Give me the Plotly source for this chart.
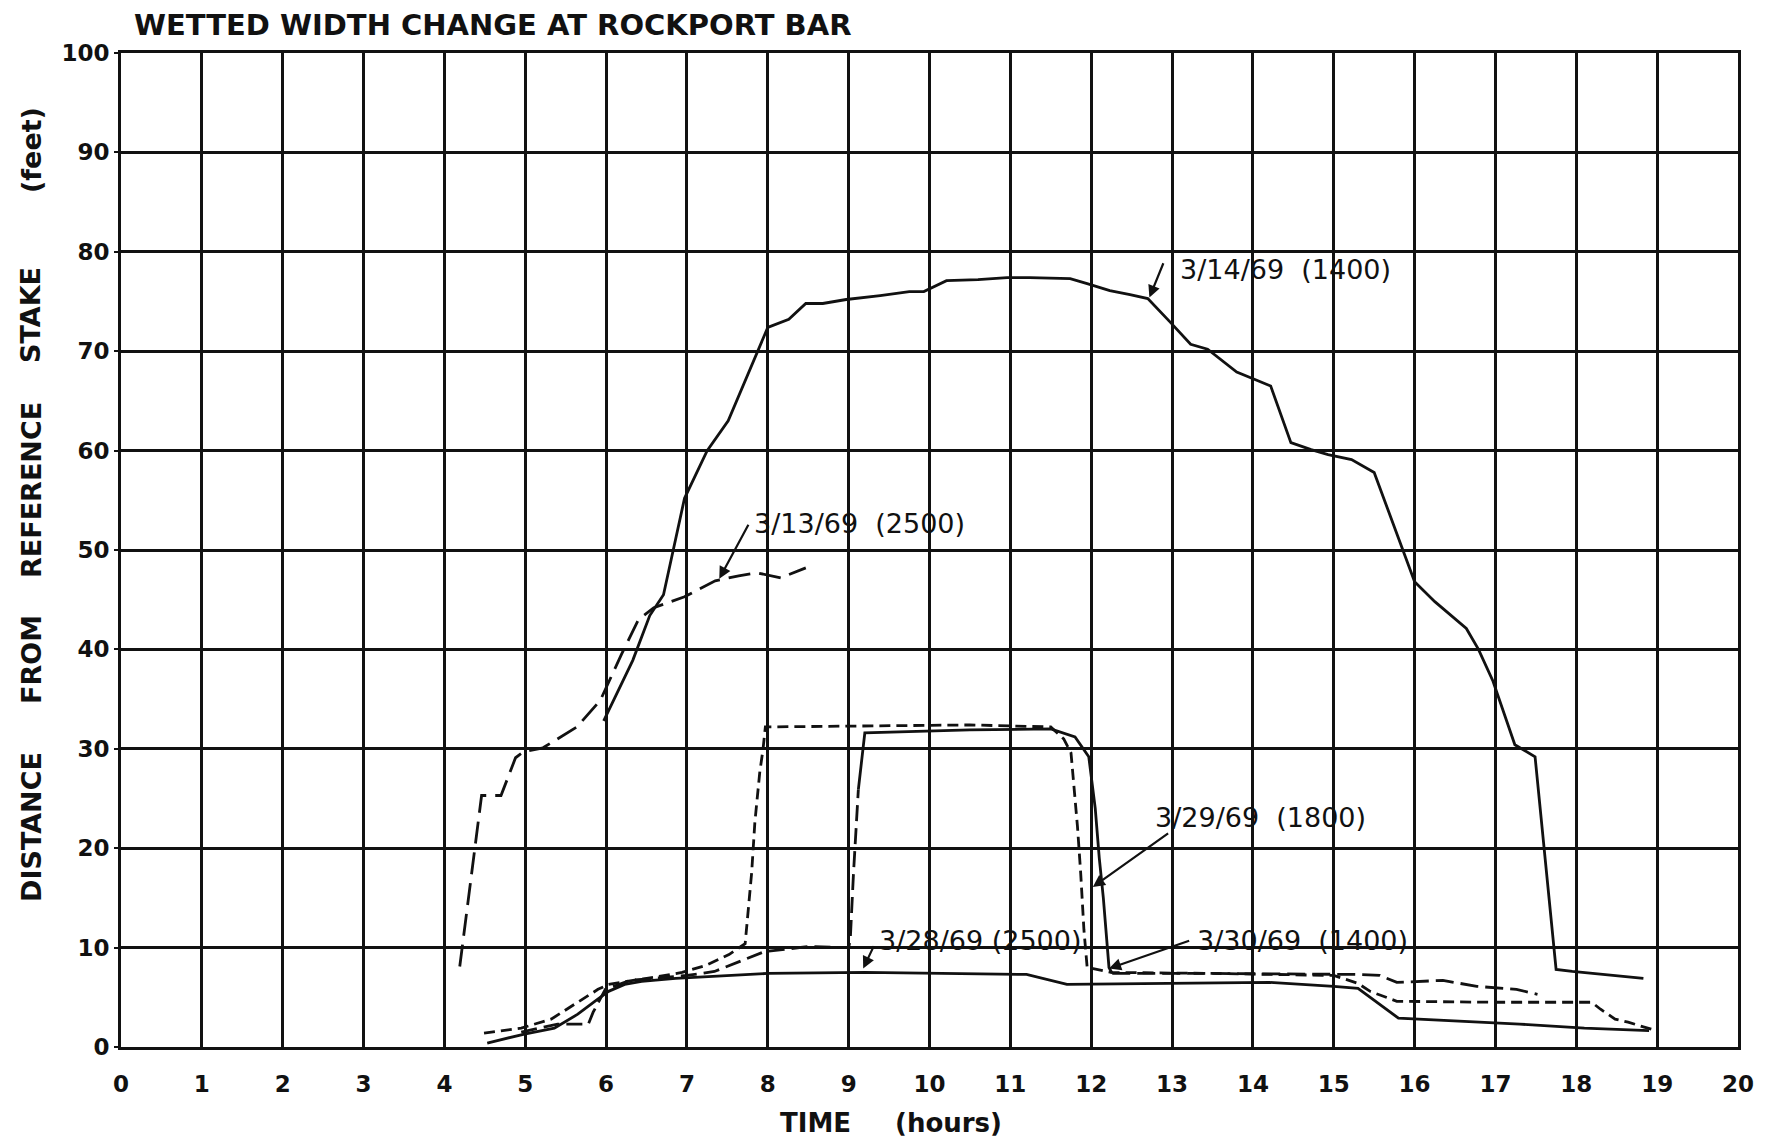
import plotly.graph_objects as go

# ---- measured records: time (hours) vs distance from reference stake (feet) ----
t_0313 = [4.19, 4.46, 4.70, 4.88, 4.98, 5.22, 5.64, 5.93, 6.19, 6.40, 6.59, 6.97, 7.35, 7.64, 7.87, 8.16, 8.47]
d_0313 = [8.1, 25.3, 25.3, 29.1, 29.7, 30.1, 32.2, 34.9, 39.5, 43.0, 44.2, 45.3, 46.9, 47.4, 47.7, 47.2, 48.2]

t_0314 = [5.97, 6.12, 6.33, 6.54, 6.71, 6.97, 7.25, 7.51, 7.89, 8.00, 8.26, 8.47, 8.68, 8.97, 9.39, 9.75,
          9.93, 10.21, 10.60, 10.96, 11.24, 11.74, 11.95, 12.23, 12.48, 12.70, 12.98, 13.23, 13.44, 13.80,
          14.01, 14.22, 14.47, 14.72, 14.93, 15.22, 15.50, 16.00, 16.25, 16.64, 16.79, 16.97, 17.24, 17.49,
          17.75, 17.95, 18.83]
d_0314 = [32.8, 35.3, 38.9, 43.4, 45.5, 55.2, 60.0, 63.0, 70.4, 72.4, 73.2, 74.8, 74.8, 75.2, 75.6, 76.0,
          76.0, 77.1, 77.2, 77.4, 77.4, 77.3, 76.8, 76.1, 75.7, 75.3, 72.9, 70.7, 70.2, 67.9,
          67.2, 66.5, 60.8, 60.1, 59.6, 59.1, 57.8, 46.8, 44.8, 42.1, 40.0, 36.8, 30.4, 29.2,
          7.8, 7.6, 6.9]

t_0328 = [4.53, 4.99, 5.36, 5.65, 5.86, 6.03, 6.23, 6.44, 6.86, 7.27, 8.00, 9.20, 10.50, 11.20, 11.70,
          13.50, 14.20, 15.00, 15.30, 15.80, 17.30, 18.10, 18.90]
d_0328 = [0.4, 1.3, 1.9, 3.3, 4.6, 5.6, 6.3, 6.6, 6.9, 7.1, 7.4, 7.5, 7.4, 7.3, 6.3,
          6.4, 6.5, 6.1, 5.9, 2.9, 2.3, 1.9, 1.65]

t_0329 = [4.49, 4.95, 5.32, 5.61, 5.90, 6.03, 6.28, 6.65, 6.94, 7.23, 7.52, 7.72, 7.80, 7.84, 7.90, 7.94,
          7.97, 9.00, 10.50, 11.50, 11.66, 11.75, 11.79, 11.83, 11.87, 11.91, 11.95, 12.25, 13.50, 15.00,
          15.30, 15.45, 15.78, 17.00, 18.19, 18.30, 18.48, 18.64, 18.84, 18.97]
d_0329 = [1.4, 1.9, 2.8, 4.3, 5.8, 6.3, 6.6, 7.1, 7.5, 8.2, 9.3, 10.4, 17.5, 22.6, 27.6, 29.9,
          32.2, 32.3, 32.4, 32.2, 31.0, 29.6, 25.9, 22.2, 17.5, 11.8, 8.0, 7.5, 7.4, 7.2,
          6.4, 5.6, 4.6, 4.5, 4.5, 3.8, 2.8, 2.5, 2.0, 1.7]

t_0330 = [4.95, 5.40, 5.78, 5.84, 5.99, 6.30, 7.00, 7.34, 7.96, 8.50, 9.00, 9.02, 9.06, 9.12,
          9.20, 10.50, 11.50, 11.80, 11.97, 12.05, 12.10, 12.15, 12.22, 12.26,
          13.50, 15.30, 15.57, 15.78, 16.07, 16.35, 16.77, 17.26, 17.52]
d_0330 = [1.5, 2.3, 2.3, 3.5, 5.8, 6.7, 7.2, 7.6, 9.6, 10.1, 10.0, 10.8, 17.5, 25.9,
          31.6, 31.9, 32.0, 31.2, 29.2, 24.0, 19.0, 15.0, 8.0, 7.4,
          7.4, 7.3, 7.2, 6.5, 6.6, 6.7, 6.1, 5.8, 5.3]

x_ticks = list(range(0, 21))
x_ticktext = [str(v) for v in x_ticks]
y_ticks = list(range(0, 101, 10))
y_ticktext = [str(v) for v in y_ticks]

INK = "#111111"
FONT = "DejaVu Sans"

fig = go.Figure()


def add_line(xs, ys, dash, width=2.8):
    fig.add_trace(go.Scatter(x=xs, y=ys, mode="lines",
                             line=dict(color=INK, width=width, dash=dash),
                             hoverinfo="skip", showlegend=False))


add_line(t_0313, d_0313, "22px,9px")
add_line(t_0314, d_0314, "solid")
add_line(t_0328, d_0328, "solid")
add_line(t_0329, d_0329, "11px,6px")
# the 3/30 record changes pen style along its path
i_a = t_0330.index(9.12)
i_b = t_0330.index(12.26)
add_line(t_0330[:i_a + 1], d_0330[:i_a + 1], "16px,7px")
add_line(t_0330[i_a:i_b + 1], d_0330[i_a:i_b + 1], "solid")
add_line(t_0330[i_b:], d_0330[i_b:], "18px,7px")

# curve labels: (text, text x, text y, arrow tail x, tail y, head x, head y)
labels = [
    ("3/14/69\u00a0\u00a0(1400)", 13.07, 78.2, 12.9, 79.0, 12.72, 75.4),
    ("3/13/69\u00a0\u00a0(2500)", 7.81, 52.7, 7.77, 52.7, 7.40, 47.1),
    ("3/29/69\u00a0\u00a0(1800)", 12.76, 23.1, 12.97, 21.6, 12.02, 16.1),
    ("3/28/69\u00a0(2500)", 9.35, 10.75, 9.32, 10.3, 9.18, 7.9),
    ("3/30/69\u00a0\u00a0(1400)", 13.28, 10.75, 13.23, 10.75, 12.22, 7.9),
]
for text, tx, ty, ax, ay, hx, hy in labels:
    fig.add_annotation(x=tx, y=ty, xref="x", yref="y", text=text, showarrow=False,
                       xanchor="left", yanchor="middle",
                       font=dict(family=FONT, size=27, color=INK))
    fig.add_annotation(x=hx, y=hy, ax=ax, ay=ay, xref="x", yref="y", axref="x", ayref="y",
                       text="", showarrow=True, arrowhead=2, arrowsize=1.1, arrowwidth=2.2,
                       arrowcolor=INK, standoff=0, startstandoff=0)

L, R, T, B = 121, 39, 53, 93
W, H = 1777, 1140
pw, ph = W - L - R, H - T - B


def px_to_paper(px, py):
    return (px - L) / pw, (H - B - py) / ph


# title
tx, ty = px_to_paper(132, 25)
fig.add_annotation(x=tx, y=ty, xref="paper", yref="paper",
                   text="WETTED WIDTH CHANGE AT ROCKPORT BAR", showarrow=False,
                   xanchor="left", yanchor="middle",
                   font=dict(family=FONT, size=29, color=INK, weight="bold"))

# vertical axis caption, word by word
for word, py in [("DISTANCE", 827), ("FROM", 660), ("REFERENCE", 490), ("STAKE", 315), ("(feet)", 150)]:
    wx, wy = px_to_paper(31, py)
    fig.add_annotation(x=wx, y=wy, xref="paper", yref="paper", text=word, showarrow=False,
                       textangle=-90, xanchor="center", yanchor="middle",
                       font=dict(family=FONT, size=27, color=INK, weight="bold"))

# horizontal axis caption
for word, px in [("TIME", 815), ("(hours)", 948)]:
    wx, wy = px_to_paper(px, 1123)
    fig.add_annotation(x=wx, y=wy, xref="paper", yref="paper", text=word, showarrow=False,
                       xanchor="center", yanchor="middle",
                       font=dict(family=FONT, size=26, color=INK, weight="bold"))

fig.update_layout(
    width=W, height=H,
    margin=dict(l=L, r=R, t=T, b=B, pad=0),
    paper_bgcolor="white", plot_bgcolor="white",
    showlegend=False,
    xaxis=dict(range=[0, 20], tickmode="array", tickvals=x_ticks, ticktext=x_ticktext,
               showgrid=True, gridcolor=INK, gridwidth=2.5, zeroline=False,
               showline=True, linecolor=INK, linewidth=3, mirror=True,
               ticks="", ticklabelstandoff=14,
               tickfont=dict(family=FONT, size=23, color=INK, weight="bold")),
    yaxis=dict(range=[0, 100], tickmode="array", tickvals=y_ticks, ticktext=y_ticktext,
               showgrid=True, gridcolor=INK, gridwidth=2.5, zeroline=False,
               showline=True, linecolor=INK, linewidth=3, mirror=True,
               ticks="outside", ticklen=4, tickwidth=2, tickcolor=INK, ticklabelstandoff=0,
               tickfont=dict(family=FONT, size=23, color=INK, weight="bold")),
)

fig.write_html("out.html")
